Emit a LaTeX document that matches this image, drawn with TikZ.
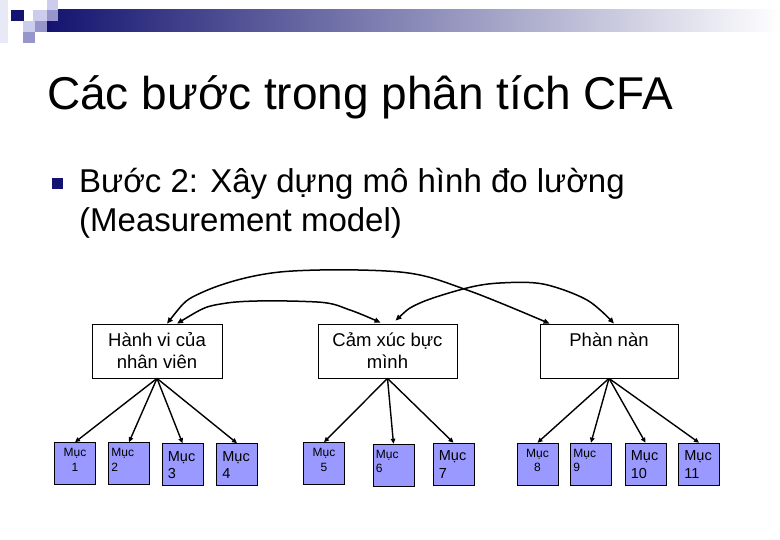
\documentclass[tikz,border=0pt]{standalone}
\usepackage{fontspec}
\setmainfont{Liberation Sans}
\usetikzlibrary{arrows.meta,calc}
\definecolor{navy}{RGB}{20,20,112}
\definecolor{barmid}{RGB}{168,168,190}
\definecolor{lavL}{RGB}{204,204,236}
\definecolor{lavM}{RGB}{150,150,204}
\definecolor{itemfill}{RGB}{153,153,255}
\tikzset{
  construct/.style={draw=black, line width=0.8pt, fill=white, minimum height=54pt, align=center, inner sep=0pt, font=\fontsize{18.5}{22}\selectfont},
  itembox/.style={draw=black, line width=0.6pt, fill=itemfill, minimum width=41pt, minimum height=42pt, inner sep=0pt},
  smalltxt/.style={inner sep=0pt, font=\fontsize{12}{14.5}\selectfont},
  bigtxt/.style={inner sep=0pt, anchor=north west, align=left, font=\fontsize{14.5}{17.5}\selectfont},
  load/.style={line width=1.4pt, -{Triangle[length=5pt,width=4.5pt]}},
  corr/.style={line width=1.5pt, {Triangle[length=6pt,width=5pt]}-{Triangle[length=6pt,width=5pt]}}
}
\begin{document}
\begin{tikzpicture}[x=1pt,y=-1pt]
\useasboundingbox (0,0) rectangle (780,540);
\fill[white] (0,0) rectangle (780,540);
% header decoration
\shade[left color=navy, middle color=barmid, right color=white] (47,10) rectangle (780,32);
\fill[lavL!45] (0,0) rectangle (8,43);
\fill[navy] (11,10) rectangle (24,21);
\fill[lavL] (33,10) rectangle (47,21);
\fill[lavL] (47,0) rectangle (58,10);
\fill[lavM] (47,10) rectangle (58,21);
\fill[lavL] (23,21) rectangle (35,32);
\fill[lavM] (35,21) rectangle (47,32);
\fill[lavM] (23,32) rectangle (35,43);
% title
\node[anchor=base west, inner sep=0pt, font=\fontsize{46}{55}\selectfont] (title) at (47,110) {Các bước trong phân tích CFA};
% bullet
\fill[navy] (52,178) rectangle (63,189);
\node[anchor=base west, inner sep=0pt, font=\fontsize{33}{39}\selectfont] (b1) at (79,193) {Bước 2: Xây dựng mô hình đo lường};
\node[anchor=base west, inner sep=0pt, font=\fontsize{33}{39}\selectfont] (b2) at (79,232) {(Measurement model)};
% constructs
\node[construct, minimum width=130pt] (hv) at (157,351) {Hành vi của\\nhân viên};
\node[construct, minimum width=139pt] (cx) at (387.5,351) {Cảm xúc bực\\mình};
\node[construct, minimum width=138pt] (pn) at (609,351) {Phàn nàn\\\mbox{}};
% items
\node[itembox] (m1) at (75,463.5) {};
\node[itembox] (m2) at (129,463.5) {};
\node[itembox] (m3) at (182.5,464.5) {};
\node[itembox] (m4) at (237,464.5) {};
\node[itembox] (m5) at (324,463.5) {};
\node[itembox] (m6) at (393.5,465) {};
\node[itembox] (m7) at (453.5,464) {};
\node[itembox] (m8) at (537.5,464) {};
\node[itembox] (m9) at (591,464) {};
\node[itembox] (m10) at (645.5,464) {};
\node[itembox] (m11) at (699,464) {};
% item texts
\node[smalltxt, anchor=north, align=center] (t1) at ($(m1.north)+(0,6)$) {Mục\\1};
\node[smalltxt, anchor=north west, align=left] (t2) at ($(m2.north west)+(3,6)$) {Mục\\ 2};
\node[bigtxt] (t3) at ($(m3.north west)+(6,8)$) {Mục\\3};
\node[bigtxt] (t4) at ($(m4.north west)+(6,8)$) {Mục\\4};
\node[smalltxt, anchor=north, align=center] (t5) at ($(m5.north)+(0,6)$) {Mục\\5};
\node[smalltxt, anchor=north west, align=left] (t6) at ($(m6.north west)+(3,6)$) {Mục\\ 6};
\node[bigtxt] (t7) at ($(m7.north west)+(6,8)$) {Mục\\7};
\node[smalltxt, anchor=north, align=center] (t8) at ($(m8.north)+(0,6)$) {Mục\\8};
\node[smalltxt, anchor=north west, align=left] (t9) at ($(m9.north west)+(3,6)$) {Mục\\ 9};
\node[bigtxt] (t10) at ($(m10.north west)+(6,8)$) {Mục\\10};
\node[bigtxt] (t11) at ($(m11.north west)+(6,8)$) {Mục\\11};
% loadings
\foreach \m in {m1,m2,m3,m4} \draw[load] (hv.south) -- (\m.north);
\foreach \m in {m5,m6,m7} \draw[load] (cx.south) -- (\m.north);
\foreach \m in {m8,m9,m10,m11} \draw[load] (pn.south) -- (\m.north);
% correlations
\coordinate (a1) at ($(hv.north)+(10,0)$);
\coordinate (a2) at ($(hv.north)+(20,0)$);
\coordinate (c1) at ($(cx.north)+(-7,-1)$);
\coordinate (c2) at ($(cx.north)+(8,-3)$);
\coordinate (p1) at ($(pn.north west)+(10,0)$);
\coordinate (p2) at ($(pn.north)+(5,0)$);
\draw[corr] plot[smooth, tension=0.55] coordinates {(a1) (203,292) (280,272) (400,272) (467,290) (p1)};
\draw[corr] plot[smooth, tension=0.55] coordinates {(a2) (227,303) (317,302) (350,310) (c1)};
\draw[corr] plot[smooth, tension=0.55] coordinates {(c2) (420,303) (467,288) (500,283) (543,284) (587,300) (p2)};
\end{tikzpicture}
\end{document}
